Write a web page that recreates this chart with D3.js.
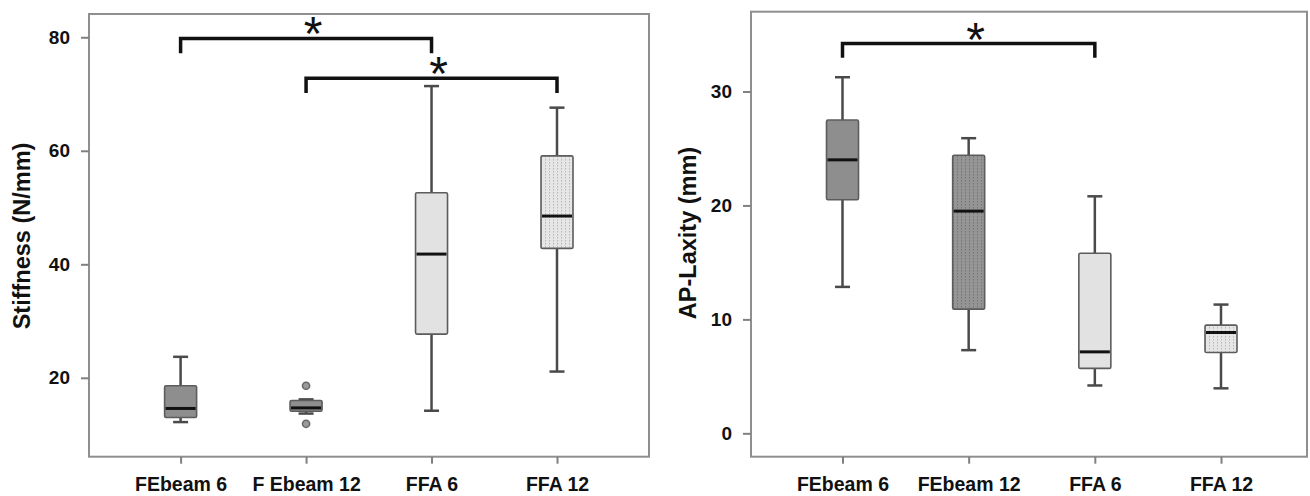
<!DOCTYPE html>
<html>
<head>
<meta charset="utf-8">
<script src="https://cdn.jsdelivr.net/npm/d3@7"></script>
<style>
  body { margin: 0; background: #fff; }
  text { font-family: "Liberation Sans", Arial, sans-serif; }
</style>
</head>
<body>
<script>
// data: [min, q1, median, q3, max]
var stiffCats = ["FEbeam 6", "F Ebeam 12", "FFA 6", "FFA 12"];
var stiffStats = [
  [12.2, 13.0, 14.6, 18.6, 23.7],
  [13.7, 14.1, 14.7, 16.0, 16.2],
  [14.2, 27.7, 41.8, 52.6, 71.4],
  [21.1, 42.8, 48.5, 59.1, 67.6]
];
var stiffOutliers = [[], [18.6, 11.9], [], []];
var stiffTicks = [20, 40, 60, 80];
var stiffBrackets = [[0, 2, 79.8, 77.2], [1, 3, 72.8, 70.2]]; // from, to, line level, drop level

var laxCats = ["FEbeam 6", "FEbeam 12", "FFA 6", "FFA 12"];
var laxStats = [
  [12.85, 20.5, 24.0, 27.5, 31.25],
  [7.3, 10.9, 19.5, 24.4, 25.9],
  [4.2, 5.7, 7.15, 15.8, 20.8],
  [3.95, 7.1, 8.85, 9.5, 11.3]
];
var laxOutliers = [[], [], [], []];
var laxTicks = [0, 10, 20, 30];
var laxBrackets = [[0, 2, 34.2, 32.95]];

var svg = d3.select("body").append("svg")
  .attr("width", 1310)
  .attr("height", 496);

// fill patterns
var defs = svg.append("defs");
function dotPattern(id, bg, dot) {
  var p = defs.append("pattern")
    .attr("id", id)
    .attr("patternUnits", "userSpaceOnUse")
    .attr("width", 4).attr("height", 3);
  p.append("rect").attr("width", 4).attr("height", 3).attr("fill", bg);
  p.append("rect").attr("x", 1).attr("y", 0).attr("width", 1).attr("height", 1.5).attr("fill", dot);
}
dotPattern("dotLight", "#e6e6e6", "#b8b8b8");
dotPattern("dotDark", "#959595", "#747474");

function drawPanel(opt) {
  var g = svg.append("g");

  var y = d3.scaleLinear().domain(opt.domain).range([opt.bottom, opt.top]);
  var x = d3.scalePoint().domain(opt.cats).range(opt.xRange);

  // frame
  g.append("rect")
    .attr("x", opt.left).attr("y", opt.top)
    .attr("width", opt.right - opt.left).attr("height", opt.bottom - opt.top)
    .attr("fill", "none").attr("stroke", "#8f8f8f").attr("stroke-width", 2);

  // axes
  var ya = g.append("g").attr("transform", "translate(" + opt.left + ",0)")
    .call(d3.axisLeft(y).tickValues(opt.ticks).tickSize(8).tickPadding(11).tickSizeOuter(0));
  var xa = g.append("g").attr("transform", "translate(0," + opt.bottom + ")")
    .call(d3.axisBottom(x).tickSize(7).tickPadding(13).tickSizeOuter(0));
  [ya, xa].forEach(function(a, k) {
    a.select(".domain").remove();
    a.selectAll(".tick line").attr("stroke", "#808080").attr("stroke-width", 2);
    a.selectAll(".tick text")
      .attr("fill", "#111")
      .style("font-size", k == 0 ? "19px" : "19.5px")
      .style("font-weight", "bold");
  });

  // y title
  g.append("text")
    .attr("transform", "translate(" + opt.titleX + "," + opt.titleY + ") rotate(-90)")
    .attr("text-anchor", "middle")
    .attr("dy", "0.35em")
    .style("font-size", "23.5px")
    .style("font-weight", "bold")
    .attr("fill", "#111")
    .text(opt.title);

  var bw = 32, cw = 15;
  var boxes = g.selectAll(".box")
    .data(opt.stats)
    .enter().append("g")
    .attr("class", "box");

  boxes.each(function(d, i) {
    var b = d3.select(this);
    var cx = x(opt.cats[i]);
    // whiskers
    b.append("line")
      .attr("x1", cx).attr("x2", cx)
      .attr("y1", y(d[4])).attr("y2", y(d[0]))
      .attr("stroke", "#4a4a4a").attr("stroke-width", 2.5);
    [d[0], d[4]].forEach(function(v) {
      b.append("line")
        .attr("x1", cx - cw / 2).attr("x2", cx + cw / 2)
        .attr("y1", y(v)).attr("y2", y(v))
        .attr("stroke", "#4a4a4a").attr("stroke-width", 2.5);
    });
    // box
    b.append("rect")
      .attr("x", cx - bw / 2).attr("width", bw)
      .attr("y", y(d[3])).attr("height", y(d[1]) - y(d[3]))
      .attr("rx", 1.5)
      .attr("fill", opt.fills[i])
      .attr("stroke", "#5c5c5c").attr("stroke-width", 1.6);
    // median
    b.append("line")
      .attr("x1", cx - bw / 2 + 1).attr("x2", cx + bw / 2 - 1)
      .attr("y1", y(d[2])).attr("y2", y(d[2]))
      .attr("stroke", "#111").attr("stroke-width", 3);
    // outliers
    opt.outliers[i].forEach(function(v) {
      b.append("circle")
        .attr("cx", cx).attr("cy", y(v)).attr("r", 3.6)
        .attr("fill", "#9a9a9a").attr("stroke", "#666").attr("stroke-width", 1.5);
    });
  });

  // significance brackets
  opt.brackets.forEach(function(br) {
    var x1 = x(opt.cats[br[0]]), x2 = x(opt.cats[br[1]]);
    var yl = y(br[2]), yd = y(br[3]);
    g.append("path")
      .attr("d", "M" + x1 + "," + yd + "V" + yl + "H" + x2 + "V" + yd)
      .attr("fill", "none").attr("stroke", "#111").attr("stroke-width", 3.5);
    g.append("text")
      .attr("x", (x1 + x2) / 2 + 7).attr("y", yl + 12)
      .attr("text-anchor", "middle")
      .style("font-size", "48px")
      .attr("fill", "#111")
      .text("*");
  });
}

drawPanel({
  cats: stiffCats, stats: stiffStats, outliers: stiffOutliers, ticks: stiffTicks,
  brackets: stiffBrackets, domain: [6.1, 84.1],
  left: 89, right: 649, top: 14, bottom: 456.7, xRange: [180.6, 557],
  fills: ["#8e8e8e", "#8e8e8e", "#e2e2e2", "url(#dotLight)"],
  title: "Stiffness (N/mm)", titleX: 22, titleY: 236
});

drawPanel({
  cats: laxCats, stats: laxStats, outliers: laxOutliers, ticks: laxTicks,
  brackets: laxBrackets, domain: [-2.05, 37.0],
  left: 751, right: 1307, top: 11.7, bottom: 456.7, xRange: [842.5, 1221],
  fills: ["#8e8e8e", "url(#dotDark)", "#e2e2e2", "url(#dotLight)"],
  title: "AP-Laxity (mm)", titleX: 688, titleY: 233
});
</script>
</body>
</html>
